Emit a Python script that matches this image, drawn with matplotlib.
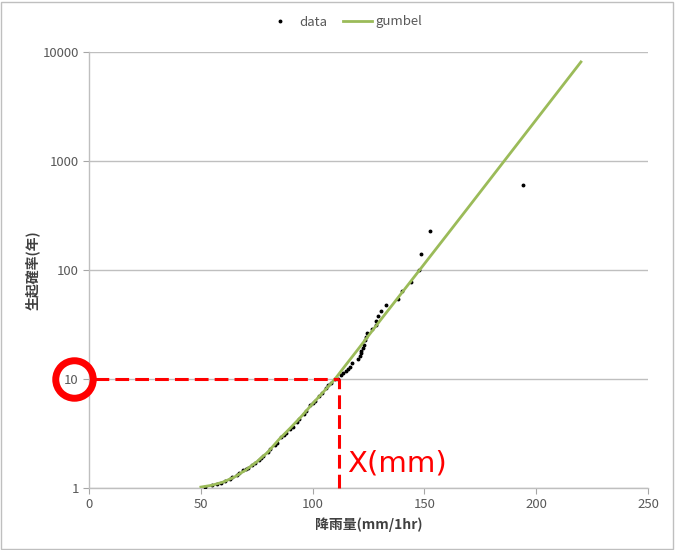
import matplotlib
matplotlib.use("Agg")
import matplotlib.pyplot as plt
from matplotlib.patches import Rectangle

plt.rcParams["font.family"] = ["Noto Sans CJK JP", "DejaVu Sans"]

# observed rainfall (mm/1hr) and return period (years)
data_x = [52, 55, 57, 59, 61, 63, 64, 66, 67, 69, 70, 71, 73, 74, 76, 77, 78,
          80, 81, 83, 84, 86, 87, 88, 90, 91, 93, 94, 96, 97, 99, 100, 101,
          103, 104, 106, 107, 108, 110,
          111.5, 112.5, 113.7, 114.9, 116.0, 116.9, 117.8, 120.2, 121.2, 121.6,
          121.8, 122.4, 123.0, 123.6, 124.0, 124.5, 126.4, 128.4, 128.4, 129.1,
          130.6, 132.9, 138.2, 140.0, 143.9, 147.7, 148.3, 152.7, 194.2]
data_t = [1.03, 1.06, 1.08, 1.12, 1.17, 1.22, 1.25, 1.32, 1.37, 1.45, 1.50,
          1.54, 1.63, 1.68, 1.80, 1.88, 1.97, 2.16, 2.26, 2.48, 2.60, 2.92,
          3.08, 3.20, 3.50, 3.66, 4.05, 4.28, 4.78, 5.05, 5.75, 6.05, 6.35,
          7.05, 7.45, 8.30, 8.75, 9.25, 9.90,
          10.1, 10.8, 11.4, 11.9, 12.4, 13.0, 13.9, 15.2, 16.3, 17.2,
          18.1, 19.1, 20.5, 22.6, 24.4, 26.3, 28.6, 31.1, 33.8, 37.6,
          42.0, 47.5, 54.5, 64.6, 77.6, 100, 139, 226, 598]

# fitted gumbel curve
gumbel_x = [50, 55, 60, 65, 70, 75, 80, 85, 90, 95, 100, 105, 110, 115, 120,
            130, 140, 150, 160, 170, 180, 190, 200, 210, 220]
gumbel_t = [1.02, 1.06, 1.135, 1.26, 1.46, 1.74, 2.14, 2.80, 3.55, 4.55, 5.95,
            7.7, 10.0, 13.6, 18.4, 34.0, 62.2, 114, 209, 384, 707, 1301,
            2393, 4405, 8103]

x_ticks = [0, 50, 100, 150, 200, 250]
y_ticks = [1, 10, 100, 1000, 10000]

# marked reading: 10-year rainfall
mark_x = 111.8
mark_t = 10

grey = "#595959"
fig = plt.figure(figsize=(6.75, 5.5), dpi=100)
ax = fig.add_axes([0.132, 0.1127, 0.828, 0.7928])

ax.plot(data_x, data_t, ls="none", marker="o", ms=1.8, color="black",
        label="data", zorder=3)
ax.plot(gumbel_x, gumbel_t, color="#9BBB59", lw=2.0, label="gumbel", zorder=4)

ax.set_yscale("log")
ax.set_xlim(0, 250)
ax.set_ylim(1, 10000)
ax.set_xticks(x_ticks)
ax.set_yticks(y_ticks)
ax.set_xticklabels([str(v) for v in x_ticks])
ax.set_yticklabels([str(v) for v in y_ticks])
ax.minorticks_off()
ax.tick_params(axis="both", colors="#a6a6a6", labelcolor=grey, labelsize=9.5,
               length=4, width=0.8)
ax.yaxis.grid(True, color="#bfbfbf", lw=1.0)
ax.set_axisbelow(True)
for side in ("top", "right"):
    ax.spines[side].set_visible(False)
for side in ("left", "bottom"):
    ax.spines[side].set_color("#bfbfbf")
    ax.spines[side].set_linewidth(1.0)

ax.set_xlabel("降雨量(mm/1hr)", fontsize=10, fontweight="bold", color="#404040",
              labelpad=4)
ax.set_ylabel("生起確率(年)", fontsize=10, fontweight="bold", color="#404040",
              labelpad=2)

handles, labels = ax.get_legend_handles_labels()
fig.legend(handles, labels, loc="center", bbox_to_anchor=(0.51, 0.96),
           ncol=2, frameon=False, fontsize=9.5, handlelength=2.2,
           columnspacing=1.2, handletextpad=0.3, labelcolor=grey)

# red annotation
red = "#ff0000"
ax.plot([2.5, mark_x], [mark_t, mark_t], color=red, lw=2.2, dashes=(4.5, 2),
        zorder=5, clip_on=False)
ax.plot([mark_x, mark_x], [1, mark_t], color=red, lw=2.2, dashes=(4.5, 2),
        zorder=5, clip_on=False)
ax.plot([-6.9], [mark_t], marker="o", ms=27, mfc="none", mec=red, mew=5,
        clip_on=False, zorder=6)
ax.text(115.5, 1.68, "X(mm)", color=red, fontsize=21, va="center", ha="left",
        family=["DejaVu Sans"], zorder=6)

fig.patches.append(Rectangle((0.002, 0.002), 0.995, 0.995, transform=fig.transFigure,
                             fill=False, edgecolor="#bfbfbf", lw=1.0))

fig.savefig("out.png", dpi=100)
